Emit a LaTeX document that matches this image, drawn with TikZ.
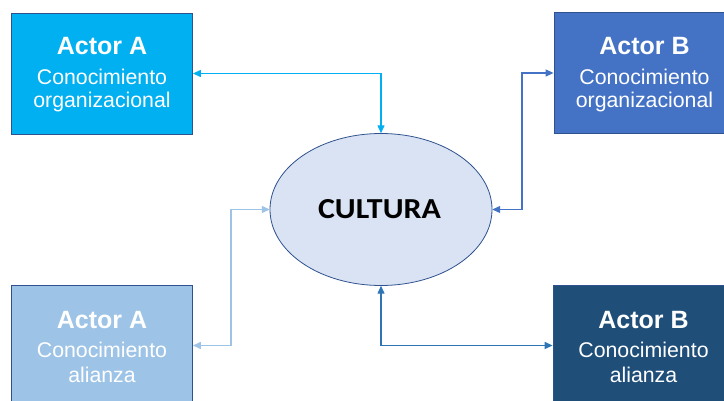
\documentclass[tikz,border=0pt]{standalone}
\usepackage{fontspec}
\setmainfont{Liberation Sans}
\newfontfamily\culturafont{Carlito}
\usetikzlibrary{arrows.meta,calc}

\definecolor{actorA}{HTML}{00B0F0}
\definecolor{actorB}{HTML}{4472C4}
\definecolor{aliA}{HTML}{9DC3E6}
\definecolor{aliB}{HTML}{1F4E79}
\definecolor{linkBR}{HTML}{2E75B6}
\definecolor{edge}{HTML}{2F528F}
\definecolor{cultfill}{HTML}{DAE3F3}

\tikzset{
  actorbox/.style={draw=edge, line width=0.8pt, minimum width=181pt, minimum height=121pt, inner sep=0pt},
  titletext/.style={anchor=base, text=white, font=\fontsize{25}{30}\selectfont\bfseries},
  bodytext/.style={anchor=base, text=white, font=\fontsize{21.3}{25}\selectfont},
  link/.style={line width=1.2pt, {Triangle[length=8pt,width=7pt]}-{Triangle[length=8pt,width=7pt]}},
}

\begin{document}
\begin{tikzpicture}[x=1pt,y=-1pt]
  \useasboundingbox (0,0) rectangle (724,401);
  \clip (0,0) rectangle (724,401);

  % central ellipse
  \draw[draw=edge, fill=cultfill, line width=0.8pt] (381,209.5) ellipse [x radius=111, y radius=76];
  \node[inner sep=0pt, minimum width=222pt, minimum height=152pt] (cul) at (381,209.5) {};
  \node[anchor=base, font=\culturafont\fontsize{29}{34}\selectfont\bfseries] (cultxt) at (379.5,219) {\scalebox{1.1}[1]{CULTURA}};

  % actor boxes
  \node[actorbox, fill=actorA] (tl) at (102,73.5) {};
  \node[actorbox, fill=actorB] (tr) at (644.5,73) {};
  \node[actorbox, fill=aliA]   (bl) at (102,345.5) {};
  \node[actorbox, fill=aliB]   (br) at (643.5,345.5) {};

  % box labels
  \node[titletext] (tl1) at ($(tl.center)+(0,-18.5)$) {Actor A};
  \node[bodytext]  (tl2) at ($(tl.center)+(0,11.5)$) {Conocimiento};
  \node[bodytext]  (tl3) at ($(tl.center)+(0,34.5)$) {organizacional};

  \node[titletext] (tr1) at ($(tr.center)+(0,-18.5)$) {Actor B};
  \node[bodytext]  (tr2) at ($(tr.center)+(0,11.5)$) {Conocimiento};
  \node[bodytext]  (tr3) at ($(tr.center)+(0,34.5)$) {organizacional};

  \node[titletext] (bl1) at ($(bl.center)+(0,-17.5)$) {Actor A};
  \node[bodytext]  (bl2) at ($(bl.center)+(0,11.5)$) {Conocimiento};
  \node[bodytext]  (bl3) at ($(bl.center)+(0,36.5)$) {alianza};

  \node[titletext] (br1) at ($(br.center)+(0,-17.5)$) {Actor B};
  \node[bodytext]  (br2) at ($(br.center)+(0,11.5)$) {Conocimiento};
  \node[bodytext]  (br3) at ($(br.center)+(0,36.5)$) {alianza};

  % connectors
  \coordinate (trbend) at (522,209.5);
  \coordinate (blbend) at (231,209.5);
  \draw[link, actorA] (tl.east) -| (cul.north);
  \draw[link, actorB] (cul.east) -- (trbend) |- (tr.west);
  \draw[link, aliA]   (cul.west) -- (blbend) |- (bl.east);
  \draw[link, linkBR] (cul.south) |- (br.west);
\end{tikzpicture}
\end{document}
